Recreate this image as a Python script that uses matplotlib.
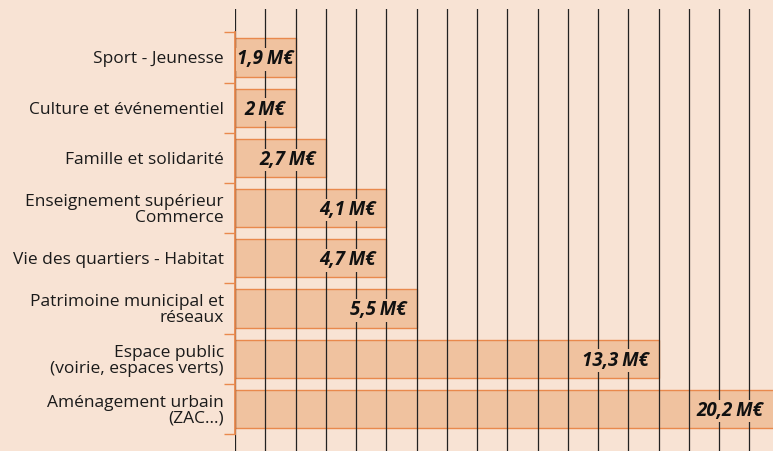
import matplotlib
matplotlib.use("Agg")
from matplotlib import pyplot as plt

# Donnees
categories = [
    "Sport - Jeunesse",
    "Culture et événementiel",
    "Famille et solidarité",
    "Enseignement supérieur\nCommerce",
    "Vie des quartiers - Habitat",
    "Patrimoine municipal et\nréseaux",
    "Espace public\n(voirie, espaces verts)",
    "Aménagement urbain\n(ZAC...)",
]
montants = [1.9, 2, 2.7, 4.1, 4.7, 5.5, 13.3, 20.2]
etiquettes = ["1,9\u2009M€", "2\u2009M€", "2,7\u2009M€", "4,1\u2009M€", "4,7\u2009M€",
              "5,5\u2009M€", "13,3\u2009M€", "20,2\u2009M€"]
# longueur des barres telle que dessinee (en graduations de la grille)
longueurs = [2, 2, 3, 5, 5, 6, 14, 21]

fond = "#f8e3d4"
barre = "#f0c29f"
orange = "#e9894d"

fig = plt.figure(figsize=(7.73, 4.51), dpi=100, facecolor=fond)
ax = fig.add_axes([235 / 773, 0, 1 - 235 / 773, (451 - 9) / 451])
ax.set_facecolor(fond)

y = list(range(len(categories)))
ax.barh(y, longueurs, height=0.76, color=barre, edgecolor=orange, linewidth=1, zorder=1)

xmax = (773 - 235) / 30.25
ax.set_xlim(0, xmax)
ax.set_ylim(7.84, -0.966)

# grille verticale par dessus les barres
ax.set_xticks(range(18))
ax.tick_params(axis="x", length=0, labelbottom=False)
ax.grid(axis="x", color="#222222", linewidth=0.9, zorder=2)
ax.set_axisbelow(False)

# graduations aux limites des categories
ax.set_yticks([i - 0.5 for i in range(len(categories) + 1)])
ax.set_yticklabels([])
ax.tick_params(axis="y", which="major", length=8, width=1, color=orange, direction="out")
ax.set_yticks(y, minor=True)
ax.set_yticklabels(categories, minor=True, fontsize=12.5, family=["Open Sans", "DejaVu Sans"],
                   color="#1a1a1a", linespacing=1.0)
ax.tick_params(axis="y", which="minor", length=0, pad=8)

for s in ["top", "right", "bottom"]:
    ax.spines[s].set_visible(False)
ax.spines["left"].set_bounds(-0.5, 7.5)
ax.spines["left"].set_color(orange)
ax.spines["left"].set_linewidth(1.3)
ax.spines["left"].set_zorder(5)

for i, (lg, lab) in enumerate(zip(longueurs, etiquettes)):
    if lg <= 2:
        xr, ha = lg / 2, "center"
    else:
        xr, ha = min(lg, xmax) - 0.33, "right"
    ax.text(xr, i + 0.04, lab, ha=ha, va="center", fontsize=13.5, fontweight="bold",
            fontstyle="italic", family=["Open Sans", "DejaVu Sans"], color="#111111",
            bbox=dict(facecolor=barre, edgecolor="none", pad=1.0), zorder=3)

fig.savefig("out.png", dpi=100, facecolor=fond)
